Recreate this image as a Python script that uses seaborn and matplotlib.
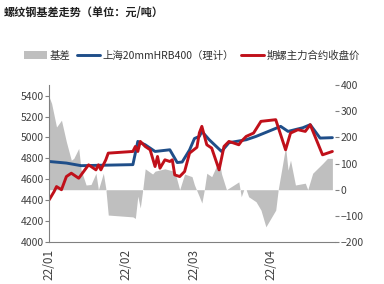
import matplotlib
matplotlib.use("Agg")
import matplotlib.pyplot as plt
import matplotlib.dates as mdates
from matplotlib.patches import Patch
from matplotlib.lines import Line2D
import pandas as pd
import seaborn as sns

# blue: 上海20mmHRB400（理计）
blue_dates = ["2022-01-01", "2022-01-08", "2022-01-14", "2022-02-04", "2022-02-06", "2022-02-09",
              "2022-02-13", "2022-02-19", "2022-02-22", "2022-02-24", "2022-02-27", "2022-03-01",
              "2022-03-03", "2022-03-04", "2022-03-07", "2022-03-12", "2022-03-15", "2022-03-22",
              "2022-03-26", "2022-03-31", "2022-04-05", "2022-04-08", "2022-04-14", "2022-04-17",
              "2022-04-21", "2022-04-26"]
blue_vals = [4770, 4755, 4730, 4740, 4962, 4930, 4866, 4882, 4760, 4765, 4880, 4990,
             5010, 5058, 4978, 4866, 4950, 4978, 5010, 5058, 5106, 5058, 5093, 5122,
             4994, 4998]

# red: 期螺主力合约收盘价
red_dates = ["2022-01-01", "2022-01-03", "2022-01-04", "2022-01-06", "2022-01-08", "2022-01-10",
             "2022-01-13", "2022-01-17", "2022-01-20", "2022-01-21", "2022-01-22", "2022-01-24",
             "2022-01-25", "2022-02-04", "2022-02-05", "2022-02-06", "2022-02-07", "2022-02-09",
             "2022-02-11", "2022-02-13", "2022-02-14", "2022-02-15", "2022-02-17", "2022-02-19",
             "2022-02-20", "2022-02-21", "2022-02-23", "2022-02-25", "2022-02-27", "2022-03-02",
             "2022-03-03", "2022-03-04", "2022-03-06", "2022-03-08", "2022-03-11", "2022-03-13",
             "2022-03-15", "2022-03-19", "2022-03-20", "2022-03-22", "2022-03-25", "2022-03-28",
             "2022-04-03", "2022-04-07", "2022-04-09", "2022-04-12", "2022-04-15", "2022-04-17",
             "2022-04-22", "2022-04-26"]
red_vals = [4403, 4482, 4530, 4500, 4626, 4658, 4610, 4738, 4690, 4738, 4690, 4786,
            4850, 4866, 4914, 4866, 4962, 4914, 4882, 4722, 4818, 4706, 4786, 4770,
            4786, 4642, 4626, 4674, 4850, 4906, 5045, 5106, 4930, 4898, 4690, 4914,
            4962, 4930, 4962, 5010, 5042, 5154, 5170, 4882, 5042, 5074, 5058, 5122,
            4834, 4866]

# gray area: 基差 (right axis)
basis_dates = ["2022-01-01", "2022-01-02", "2022-01-04", "2022-01-06", "2022-01-08", "2022-01-10",
               "2022-01-11", "2022-01-13", "2022-01-14", "2022-01-16", "2022-01-18", "2022-01-20",
               "2022-01-21", "2022-01-23", "2022-01-24", "2022-01-25", "2022-02-04", "2022-02-05",
               "2022-02-06", "2022-02-07", "2022-02-08", "2022-02-09", "2022-02-12", "2022-02-13",
               "2022-02-17", "2022-02-21", "2022-02-23", "2022-02-25", "2022-02-28", "2022-03-01",
               "2022-03-03", "2022-03-04", "2022-03-05", "2022-03-06", "2022-03-08", "2022-03-11",
               "2022-03-12", "2022-03-14", "2022-03-19", "2022-03-20", "2022-03-21", "2022-03-22",
               "2022-03-23", "2022-03-26", "2022-03-28", "2022-03-30", "2022-04-03", "2022-04-04",
               "2022-04-07", "2022-04-08", "2022-04-09", "2022-04-11", "2022-04-15", "2022-04-16",
               "2022-04-18", "2022-04-22", "2022-04-24", "2022-04-26"]
basis_vals = [355, 330, 240, 266, 183, 113, 120, 158, 75, 18, 20, 63,
              0, 63, 5, -97, -104, -110, -25, -70, 0, 80, 60, 71,
              80, 70, 0, 60, 50, 18, -27, -51, 0, 63, 50, 113,
              60, 0, 30, -27, 0, 0, -27, -46, -78, -142, -78, 0,
              164, 75, 113, 18, 25, 0, 63, 100, 120, 120]

blue_df = pd.DataFrame({"date": pd.to_datetime(blue_dates), "val": blue_vals})
red_df = pd.DataFrame({"date": pd.to_datetime(red_dates), "val": red_vals})
basis_df = pd.DataFrame({"date": pd.to_datetime(basis_dates), "val": basis_vals})

sns.set_style("white")
plt.rcParams["font.family"] = ["Noto Sans CJK SC", "DejaVu Sans"]

fig = plt.figure(figsize=(3.84, 2.84), dpi=100)
ax = fig.add_axes([0.128, 0.148, 0.744, 0.552])
ax2 = ax.twinx()

gray = "#BFBFBF"
blue = "#1F4E89"
red = "#C0101A"

ax2.fill_between(basis_df["date"], 0, basis_df["val"], color=gray, linewidth=0)
sns.lineplot(data=blue_df, x="date", y="val", ax=ax, color=blue, linewidth=2.1)
sns.lineplot(data=red_df, x="date", y="val", ax=ax, color=red, linewidth=2.1)

ax.set_zorder(ax2.get_zorder() + 1)
ax.patch.set_visible(False)

ax.set_ylim(4000, 5500)
ax.set_yticks(range(4000, 5401, 200))
ax2.set_ylim(-200, 400)
ax2.set_yticks(range(-200, 401, 100))
ax.set_xlim(pd.Timestamp("2022-01-01"), pd.Timestamp("2022-04-27"))
ax.set_xticks(pd.to_datetime(["2022-01-01", "2022-02-01", "2022-03-01", "2022-04-01"]))
ax.xaxis.set_major_formatter(mdates.DateFormatter("%y/%m"))
ax.set_xlabel("")
ax.set_ylabel("")

tc = "#404040"
for a in (ax, ax2):
    for s in a.spines.values():
        s.set_visible(False)
    a.tick_params(colors=tc, labelsize=7.5, length=3, width=0.8, color="#808080")
ax.spines["left"].set_visible(True)
ax.spines["bottom"].set_visible(True)
ax.spines["left"].set_color("#808080")
ax.spines["bottom"].set_color("#808080")
ax.tick_params(axis="x", rotation=90, pad=2, labelsize=8.5)
ax.tick_params(axis="y", pad=1)
ax2.tick_params(axis="y", pad=1)

fig.text(0.01, 0.955, "螺纹钢基差走势（单位：元/吨）", fontsize=8, color="#202020",
         fontweight="bold", va="center")

handles = [Patch(facecolor=gray, edgecolor="none"),
           Line2D([], [], color=blue, linewidth=2.1),
           Line2D([], [], color=red, linewidth=2.1)]
labels = ["基差", "上海20mmHRB400（理计）", "期螺主力合约收盘价"]
fig.legend(handles, labels, loc="center", bbox_to_anchor=(0.5, 0.805), ncol=3, frameon=False,
           fontsize=7.5, handlelength=2.2, handletextpad=0.3, columnspacing=0.6,
           labelcolor="#303030")

fig.savefig("out.png", dpi=100)
